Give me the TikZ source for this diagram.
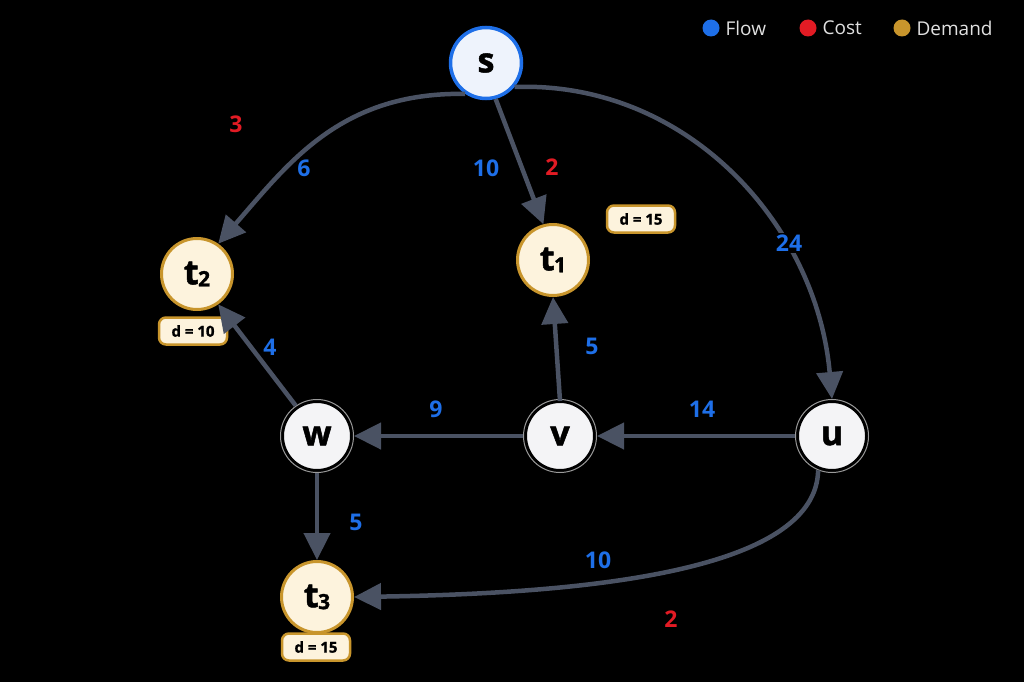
\documentclass[tikz,border=0pt]{standalone}
\usepackage{fontspec}
\setmainfont{Open Sans}
\newfontfamily\heavy[BoldFeatures={FakeBold=1.5}]{Open Sans}
\usetikzlibrary{arrows.meta}
\definecolor{bg}{HTML}{000000}
\definecolor{edgecol}{HTML}{4A5263}
\definecolor{flowcol}{HTML}{1E6FE8}
\definecolor{costcol}{HTML}{E21B24}
\definecolor{demcol}{HTML}{C8952C}
\definecolor{creamfill}{HTML}{FDF3DD}
\definecolor{srcfill}{HTML}{EEF3FC}
\definecolor{nodefill}{HTML}{F4F4F6}
\definecolor{ringcol}{HTML}{9A9A9A}
\tikzset{
  plain/.style={circle, fill=nodefill, draw=black, line width=2pt, minimum size=68pt, inner sep=0pt,
    font=\fontsize{34}{34}\heavy\bfseries, text=black},
  ring/.style={circle, draw=ringcol, line width=1pt, minimum size=73pt, inner sep=0pt},
  sink/.style={circle, fill=creamfill, draw=demcol, line width=3pt, minimum size=71pt, inner sep=0pt,
    font=\fontsize{34}{34}\heavy\bfseries, text=black},
  source/.style={circle, fill=srcfill, draw=flowcol, line width=3.5pt, minimum size=71pt, inner sep=0pt,
    font=\fontsize{34}{34}\heavy\bfseries, text=black},
  dem/.style={rounded corners=7pt, fill=creamfill, draw=demcol, line width=2.5pt, minimum height=27pt,
    minimum width=68pt, inner xsep=8pt, inner ysep=0pt, font=\fontsize{15}{15}\heavy\bfseries, text=black},
  edge/.style={draw=edgecol, line width=4.5pt, -{Triangle[length=27pt,width=26pt]}},
  fl/.style={font=\fontsize{23}{23}\bfseries, text=flowcol, inner sep=1pt},
  co/.style={font=\fontsize{23}{23}\bfseries, text=costcol, inner sep=1pt},
  gap/.style={fill=bg, inner sep=2pt},
  leg/.style={font=\fontsize{19}{19}\selectfont, text=white!88!black, anchor=west},
  dot/.style={circle, minimum size=17pt, inner sep=0pt},
}
\newcommand{\sub}[1]{t\kern-0.5pt\raisebox{-2pt}{\fontsize{21}{21}\selectfont #1}}
\begin{document}
\begin{tikzpicture}[x=1pt,y=-1pt]
\fill[bg] (0,0) rectangle (1024,682);
\useasboundingbox (0,0) rectangle (1024,682);

% legend
\node[dot, fill=flowcol] (lf) at (711,28) {};
\node[leg] (lft) at (722,28) {Flow};
\node[dot, fill=costcol] (lc) at (808,28) {};
\node[leg] (lct) at (819,28) {Cost};
\node[dot, fill=demcol] (ld) at (902,28) {};
\node[leg] (ldt) at (913,28) {Demand};

% nodes
\node[source] (s) at (486,63) {s};
\node[sink] (t2) at (197,274) {\sub{2}};
\node[sink] (t1) at (553,260) {\sub{1}};
\node[sink] (t3) at (317,597) {\sub{3}};
\node[ring] (wr) at (317,436) {};
\node[plain] (w) at (317,436) {w};
\node[ring] (vr) at (560,436) {};
\node[plain] (v) at (560,436) {v};
\node[ring] (ur) at (832,436) {};
\node[plain] (u) at (832,436) {u};

% demand labels
\node[dem] (d2) at (193,331) {d = 10};
\node[dem] (d1) at (641,219) {d = 15};
\node[dem] (d3) at (316,647) {d = 15};

% edges
\draw[edge] (s.236) .. controls +(-125,-2) and +(70,-80) .. (t2.55);
\draw[edge] (s.-75) -- (t1.105);
\draw[edge] (s.-40) to[out=2,in=95] (ur.north);
\draw[edge] (v.north) -- (t1.south);
\draw[edge] (ur.west) -- (vr.east);
\draw[edge] (vr.west) -- (wr.east);
\draw[edge] (wr.125) -- (t2.-55);
\draw[edge] (wr.south) -- (t3.north);
\draw[edge] (ur.-112) .. controls +(-2,95) and +(260,-4) .. (t3.east);

% edge labels
\node[fl] (f1) at (304,168) {6};
\node[co] (c1) at (236,124) {3};
\node[fl] (f2) at (486,168) {10};
\node[co] (c2) at (552,167) {2};
\node[fl, gap] (f3) at (789,243) {24};
\node[fl] (f4) at (592,346) {5};
\node[fl] (f5) at (702,409) {14};
\node[fl] (f6) at (436,409) {9};
\node[fl] (f7) at (270,347) {4};
\node[fl] (f8) at (356,522) {5};
\node[fl] (f9) at (598,560) {10};
\node[co] (c9) at (671,619) {2};
\end{tikzpicture}
\end{document}
